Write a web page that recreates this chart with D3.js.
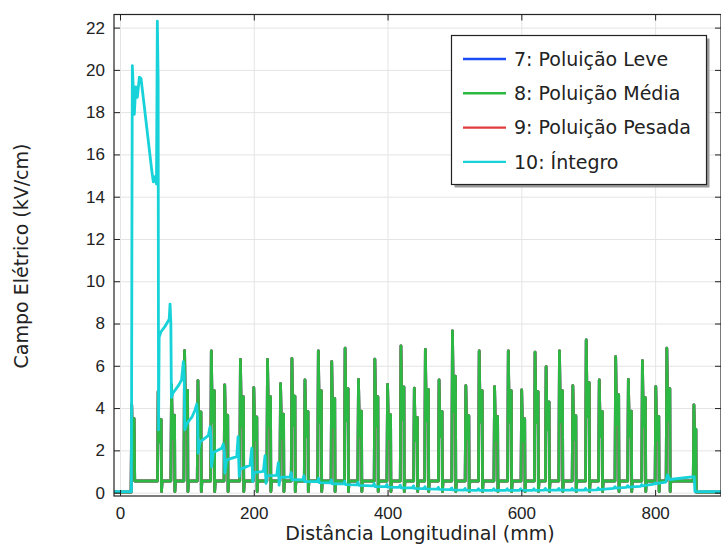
<!DOCTYPE html>
<html>
<head>
<meta charset="utf-8">
<script src="https://cdn.jsdelivr.net/npm/d3@7"></script>
<style>
  html, body { margin: 0; padding: 0; background: #fff; }
  svg { display: block; font-family: "DejaVu Sans", sans-serif; }
  .grid line { stroke: #e4e4e4; stroke-width: 1; }
  .grid path { display: none; }
  .axis path { display: none; }
  .axis line { stroke: #222; }
  .axis text { fill: #222; font-size: 17px; }
  .legend text { fill: #222; font-size: 19px; }
</style>
</head>
<body>
<div id="chart"></div>
<script>
const xTicks = [0, 200, 400, 600, 800];
const yTicks = [0, 2, 4, 6, 8, 10, 12, 14, 16, 18, 20, 22];

const seriesNames = ["7: Poluição Leve", "8: Poluição Média", "9: Poluição Pesada", "10: Íntegro"];
const seriesColors = ["#1a4cf5", "#2bb843", "#e33b3b", "#17d2d8"];

// 8: Poluição Média  [distância mm, campo kV/cm]
const mediaPoints = [
  [-9, 0.02], [16.5, 0.02], [17.5, 4.15], [19, 1.5], [21, 3.5], [22, 0.55],
  [56, 0.55], [57, 4.8], [58.5, 2.4], [61.5, 3.46], [62, 0.05], [63, 0.55],
  [76, 0.55], [77, 5.1], [78.5, 2.55], [81.5, 3.67], [82, 0.05], [83, 0.55],
  [95.5, 0.55], [96.5, 6.72], [98, 3.36], [101, 4.84], [101.5, 0.05], [102.5, 0.55],
  [115.5, 0.55], [116.5, 5.3], [118, 2.65], [121, 3.82], [121.5, 0.05], [122.5, 0.55],
  [135.5, 0.55], [136.5, 6.7], [138, 3.35], [141, 4.82], [141.5, 0.05], [142.5, 0.55],
  [155.5, 0.55], [156.5, 5.1], [158, 2.55], [161, 3.67], [161.5, 0.05], [162.5, 0.55],
  [179, 0.55], [180, 6.3], [181.5, 3.15], [184.5, 4.54], [185, 0.05], [186, 0.55],
  [199, 0.55], [200, 4.97], [201.5, 2.49], [204.5, 3.58], [205, 0.05], [206, 0.55],
  [219.5, 0.55], [220.5, 6.3], [222, 3.15], [225, 4.54], [225.5, 0.05], [226.5, 0.55],
  [239, 0.55], [240, 5.15], [241.5, 2.58], [244.5, 3.71], [245, 0.05], [246, 0.55],
  [256, 0.55], [257, 6.35], [258.5, 3.18], [261.5, 4.57], [262, 0.05], [263, 0.55],
  [275.5, 0.55], [276.5, 5.33], [278, 2.67], [281, 3.84], [281.5, 0.05], [282.5, 0.55],
  [295.5, 0.55], [296.5, 6.7], [298, 3.35], [301, 4.82], [301.5, 0.05], [302.5, 0.55],
  [315.5, 0.55], [316.5, 6.2], [318, 3.1], [321, 4.46], [321.5, 0.05], [322.5, 0.55],
  [335.5, 0.55], [336.5, 6.83], [338, 3.42], [341, 4.92], [341.5, 0.05], [342.5, 0.55],
  [355.5, 0.55], [356.5, 5.36], [358, 2.68], [361, 3.86], [361.5, 0.05], [362.5, 0.55],
  [380, 0.55], [381, 6.31], [382.5, 3.16], [385.5, 4.54], [386, 0.05], [387, 0.55],
  [399, 0.55], [400, 5.12], [401.5, 2.56], [404.5, 3.69], [405, 0.05], [406, 0.55],
  [419, 0.55], [420, 6.94], [421.5, 3.47], [424.5, 5.0], [425, 0.05], [426, 0.55],
  [439, 0.55], [440, 4.94], [441.5, 2.47], [444.5, 3.56], [445, 0.05], [446, 0.55],
  [455.5, 0.55], [456.5, 6.78], [458, 3.39], [461, 4.88], [461.5, 0.05], [462.5, 0.55],
  [476, 0.55], [477, 5.33], [478.5, 2.67], [481.5, 3.84], [482, 0.05], [483, 0.55],
  [496, 0.55], [497, 7.65], [498.5, 3.83], [501.5, 5.51], [502, 0.05], [503, 0.55],
  [516, 0.55], [517, 5.06], [518.5, 2.53], [521.5, 3.64], [522, 0.05], [523, 0.55],
  [536, 0.55], [537, 6.7], [538.5, 3.35], [541.5, 4.82], [542, 0.05], [543, 0.55],
  [559, 0.55], [560, 5.01], [561.5, 2.51], [564.5, 3.61], [565, 0.05], [566, 0.55],
  [579.5, 0.55], [580.5, 6.7], [582, 3.35], [585, 4.82], [585.5, 0.05], [586.5, 0.55],
  [599.5, 0.55], [600.5, 4.86], [602, 2.43], [605, 3.5], [605.5, 0.05], [606.5, 0.55],
  [619.5, 0.55], [620.5, 6.64], [622, 3.32], [625, 4.78], [625.5, 0.05], [626.5, 0.55],
  [636, 0.55], [637, 5.96], [638.5, 2.98], [641.5, 4.29], [642, 0.05], [643, 0.55],
  [656, 0.55], [657, 6.7], [658.5, 3.35], [661.5, 4.82], [662, 0.05], [663, 0.55],
  [676, 0.55], [677, 5.06], [678.5, 2.53], [681.5, 3.64], [682, 0.05], [683, 0.55],
  [696, 0.55], [697, 7.22], [698.5, 3.61], [701.5, 5.2], [702, 0.05], [703, 0.55],
  [715.5, 0.55], [716.5, 5.33], [718, 2.67], [721, 3.84], [721.5, 0.05], [722.5, 0.55],
  [740, 0.55], [741, 6.43], [742.5, 3.22], [745.5, 4.63], [746, 0.05], [747, 0.55],
  [759, 0.55], [760, 5.36], [761.5, 2.68], [764.5, 3.86], [765, 0.05], [766, 0.55],
  [780, 0.55], [781, 6.24], [782.5, 3.12], [785.5, 4.49], [786, 0.05], [787, 0.55],
  [800, 0.55], [801, 5.01], [802.5, 2.51], [805.5, 3.61], [806, 0.05], [807, 0.55],
  [816.5, 0.55], [817.5, 6.83], [819, 3.42], [822, 4.92], [822.5, 0.05], [823.5, 0.55],
  [857, 0.55], [858, 4.15], [859.5, 2.08], [861, 3.0], [861.5, 0.02], [899, 0.02]
];

// 7 e 9 coincidem com a curva 8 na figura (ficam por baixo dela)
const levePoints = mediaPoints;
const pesadaPoints = mediaPoints;

// 10: Íntegro
const integroPoints = [
  [-9, 0.05], [17, 0.05], [17.8, 12.5], [18.4, 20.2], [21.4, 17.9], [23.5, 19.2],
  [25.9, 18.7], [28.9, 19.65], [31.4, 19.6], [47.4, 15.25], [49.8, 14.7], [52.3, 14.95],
  [54.5, 14.6], [55.8, 22.3], [57.0, 19.5], [57.6, 2.97], [58.5, 7.35], [61, 7.6],
  [67, 7.85], [73.5, 8.2], [74.8, 8.92], [76, 8.0], [76.8, 4.5], [79, 4.7],
  [88, 5.1], [92, 5.33], [94.7, 6.2], [96, 5.5], [96.8, 2.97], [100.6, 3.3],
  [108, 3.6], [112, 3.9], [114.7, 4.19], [116, 3.6], [116.8, 1.86], [119.6, 2.4],
  [132, 2.7], [134.6, 3.12], [136, 2.6], [136.8, 1.22], [139.5, 1.9], [152, 2.1],
  [154.5, 2.3], [156, 1.9], [156.8, 0.92], [159.5, 1.55], [174.5, 1.7], [176.5, 2.65],
  [177.5, 1.5], [178.2, 0.76], [179.4, 1.1], [194.4, 1.3], [197, 2.1], [197.8, 1.2],
  [198.4, 0.52], [200.4, 0.95], [214.3, 1.0], [216.8, 1.75], [217.6, 0.9], [218.3, 0.44],
  [219.4, 0.8], [234.3, 0.82], [236.7, 1.42], [237.4, 0.8], [237.8, 0.35], [239.3, 0.72],
  [254, 0.74], [256, 0.95], [257, 0.6], [258, 0.62], [273, 0.6], [275, 0.8],
  [276, 0.52], [295, 0.52], [297, 0.68], [298, 0.47], [314, 0.46], [316, 0.6],
  [317, 0.42], [334, 0.41], [336, 0.54], [337, 0.38], [354, 0.37], [356, 0.49],
  [357, 0.34], [378, 0.32], [380, 0.43], [381, 0.29], [397, 0.28], [399, 0.39],
  [400, 0.26], [417, 0.25], [419, 0.35], [420, 0.23], [437, 0.22], [439, 0.32],
  [440, 0.2], [454, 0.19], [456, 0.28], [457, 0.18], [474, 0.17], [476, 0.25],
  [477, 0.15], [494, 0.14], [496, 0.22], [497, 0.13], [514, 0.12], [516, 0.2],
  [517, 0.12], [534, 0.11], [536, 0.18], [537, 0.11], [557, 0.11], [559, 0.18],
  [560, 0.11], [577, 0.11], [579, 0.18], [580, 0.11], [597, 0.11], [599, 0.18],
  [600, 0.11], [617, 0.11], [619, 0.18], [620, 0.11], [634, 0.12], [636, 0.2],
  [637, 0.12], [654, 0.12], [656, 0.2], [657, 0.12], [674, 0.12], [676, 0.2],
  [677, 0.12], [694, 0.12], [696, 0.2], [697, 0.12], [713, 0.13], [715, 0.22],
  [716, 0.14], [738, 0.2], [740, 0.28], [741, 0.21], [757, 0.25], [759, 0.33],
  [760, 0.26], [778, 0.3], [780, 0.38], [781, 0.32], [798, 0.4], [800, 0.46],
  [800.7, 0.43], [816, 0.5], [818.5, 0.84], [822, 0.62], [858.5, 0.76], [859.5, 0.05],
  [899, 0.05]
];

const seriesData = [levePoints, mediaPoints, pesadaPoints, integroPoints];
// ordem de desenho: 7, 9, 8 por cima, 10 no topo
const drawOrder = [0, 2, 1, 3];

const width = 721;
const height = 544;
const plot = { left: 114, right: 721, top: 14.5, bottom: 496 };

const svg = d3.select("#chart")
  .append("svg")
  .attr("width", width)
  .attr("height", height);

const x = d3.scaleLinear().domain([-9, 898.5]).range([plot.left, plot.right]);
const y = d3.scaleLinear().domain([-0.16, 22.62]).range([plot.bottom, plot.top]);

// grade
svg.append("g")
  .attr("class", "grid")
  .attr("transform", `translate(0,${plot.bottom})`)
  .call(d3.axisBottom(x).tickValues(xTicks).tickSize(-(plot.bottom - plot.top)).tickFormat(""));
svg.append("g")
  .attr("class", "grid")
  .attr("transform", `translate(${plot.left},0)`)
  .call(d3.axisLeft(y).tickValues(yTicks).tickSize(-(plot.right - plot.left)).tickFormat(""));

svg.append("clipPath").attr("id", "clip")
  .append("rect")
  .attr("x", plot.left).attr("y", plot.top)
  .attr("width", plot.right - plot.left).attr("height", plot.bottom - plot.top);

const line = d3.line().x((d) => x(d[0])).y((d) => y(d[1]));

svg.append("g")
  .attr("clip-path", "url(#clip)")
  .selectAll("path")
  .data(drawOrder)
  .join("path")
  .attr("d", (i) => line(seriesData[i]))
  .attr("fill", "none")
  .attr("stroke", (i) => seriesColors[i])
  .attr("stroke-width", 2.8)
  .attr("stroke-linejoin", "round");

// eixos com marcas para dentro
svg.append("g")
  .attr("class", "axis")
  .attr("transform", `translate(0,${plot.bottom})`)
  .call(d3.axisBottom(x).tickValues(xTicks).tickSizeInner(-6).tickSizeOuter(0).tickPadding(11).tickFormat(d3.format("d")));
svg.append("g")
  .attr("class", "axis")
  .attr("transform", `translate(0,${plot.top})`)
  .call(d3.axisTop(x).tickValues(xTicks).tickSizeInner(-6).tickSizeOuter(0).tickFormat(""));
svg.append("g")
  .attr("class", "axis")
  .attr("transform", `translate(${plot.left},0)`)
  .call(d3.axisLeft(y).tickValues(yTicks).tickSizeInner(-6).tickSizeOuter(0).tickPadding(9).tickFormat(d3.format("d")));
svg.append("g")
  .attr("class", "axis")
  .attr("transform", `translate(${plot.right},0)`)
  .call(d3.axisRight(y).tickValues(yTicks).tickSizeInner(-6).tickSizeOuter(0).tickFormat(""));

svg.append("rect")
  .attr("x", plot.left).attr("y", plot.top)
  .attr("width", plot.right - plot.left).attr("height", plot.bottom - plot.top)
  .attr("fill", "none")
  .attr("stroke", "#222")
  .attr("stroke-width", 1.2);

svg.append("text")
  .attr("x", 420)
  .attr("y", 540)
  .attr("text-anchor", "middle")
  .attr("font-size", 19)
  .attr("fill", "#222")
  .text("Distância Longitudinal (mm)");

svg.append("text")
  .attr("transform", `translate(28,256) rotate(-90)`)
  .attr("text-anchor", "middle")
  .attr("font-size", 19)
  .attr("fill", "#222")
  .text("Campo Elétrico (kV/cm)");

// legenda
const legend = svg.append("g").attr("class", "legend").attr("transform", "translate(451.5,35.5)");
legend.append("rect")
  .attr("x", 3).attr("y", 3).attr("width", 255).attr("height", 149)
  .attr("fill", "#9a9a9a");
legend.append("rect")
  .attr("width", 255).attr("height", 149)
  .attr("fill", "#fff").attr("stroke", "#222").attr("stroke-width", 1.2);
const items = legend.selectAll(".item")
  .data(seriesNames)
  .join("g")
  .attr("class", "item")
  .attr("transform", (d, i) => `translate(0,${23.5 + i * 34.3})`);
items.append("line")
  .attr("x1", 11.5).attr("x2", 54.5)
  .attr("stroke", (d, i) => seriesColors[i])
  .attr("stroke-width", 2.4);
items.append("text")
  .attr("x", 62.5)
  .attr("dy", "0.35em")
  .text((d) => d);
</script>
</body>
</html>
